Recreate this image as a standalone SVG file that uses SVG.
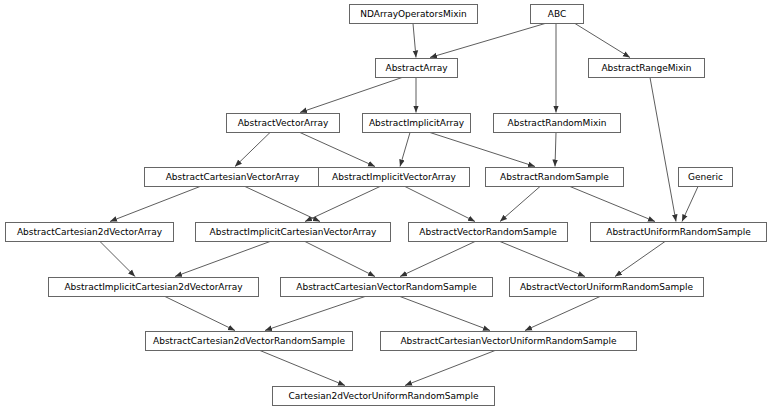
<svg xmlns="http://www.w3.org/2000/svg" width="768" height="410" viewBox="0 0 768 410">
<style>
rect{fill:#fff;stroke:#666;stroke-width:1}
text{font-family:"DejaVu Sans",sans-serif;font-size:9px;fill:#000;text-anchor:middle}
#edges line{stroke:#333;stroke-width:0.8;marker-end:url(#a)}
</style>
<defs><marker id="a" viewBox="0 0 10 10" refX="10" refY="5" markerWidth="7" markerHeight="7" markerUnits="userSpaceOnUse" orient="auto"><path d="M0,1L10,5L0,9z" fill="#333"/></marker></defs>
<rect x="0" y="0" width="768" height="410" style="stroke:none"/>
<g id="edges">
<line x1="413" y1="23.5" x2="416" y2="57.5"/>
<line x1="545" y1="23.5" x2="430" y2="57.5"/>
<line x1="575" y1="23.5" x2="630" y2="57.5"/>
<line x1="556" y1="23.5" x2="556" y2="112.5"/>
<line x1="402" y1="77.5" x2="300" y2="112.5"/>
<line x1="416" y1="77.5" x2="416" y2="112.5"/>
<line x1="270" y1="132.5" x2="235" y2="166.5"/>
<line x1="300" y1="132.5" x2="375" y2="166.5"/>
<line x1="410" y1="132.5" x2="400" y2="166.5"/>
<line x1="430" y1="132.5" x2="535" y2="166.5"/>
<line x1="556" y1="132.5" x2="555" y2="166.5"/>
<line x1="200" y1="186.5" x2="110" y2="221.5"/>
<line x1="245" y1="186.5" x2="320" y2="221.5"/>
<line x1="380" y1="186.5" x2="305" y2="221.5"/>
<line x1="405" y1="186.5" x2="475" y2="221.5"/>
<line x1="540" y1="186.5" x2="500" y2="221.5"/>
<line x1="570" y1="186.5" x2="655" y2="221.5"/>
<line x1="698" y1="186.5" x2="682" y2="221.5"/>
<line x1="650" y1="77.5" x2="676" y2="221.5"/>
<line x1="100" y1="241.5" x2="135" y2="276.5"/>
<line x1="270" y1="241.5" x2="175" y2="276.5"/>
<line x1="305" y1="241.5" x2="375" y2="276.5"/>
<line x1="475" y1="241.5" x2="400" y2="276.5"/>
<line x1="500" y1="241.5" x2="585" y2="276.5"/>
<line x1="665" y1="241.5" x2="615" y2="276.5"/>
<line x1="165" y1="296.5" x2="235" y2="330.5"/>
<line x1="365" y1="296.5" x2="265" y2="330.5"/>
<line x1="400" y1="296.5" x2="490" y2="330.5"/>
<line x1="600" y1="296.5" x2="525" y2="330.5"/>
<line x1="260" y1="350.5" x2="345" y2="385.5"/>
<line x1="495" y1="350.5" x2="405" y2="385.5"/>
</g>
<g id="NDArrayOperatorsMixin"><rect x="349.5" y="4.5" width="128" height="19"/><text x="413.5" y="17">NDArrayOperatorsMixin</text></g>
<g id="ABC"><rect x="530.5" y="4.5" width="53" height="19"/><text x="557" y="17">ABC</text></g>
<g id="AbstractArray"><rect x="375.5" y="58.5" width="82" height="19"/><text x="416.5" y="71">AbstractArray</text></g>
<g id="AbstractRangeMixin"><rect x="588.5" y="58.5" width="116" height="19"/><text x="646.5" y="71">AbstractRangeMixin</text></g>
<g id="AbstractVectorArray"><rect x="226.5" y="113.5" width="113" height="19"/><text x="283" y="126">AbstractVectorArray</text></g>
<g id="AbstractImplicitArray"><rect x="362.5" y="113.5" width="108" height="19"/><text x="416.5" y="126">AbstractImplicitArray</text></g>
<g id="AbstractRandomMixin"><rect x="493.5" y="113.5" width="127" height="19"/><text x="557" y="126">AbstractRandomMixin</text></g>
<g id="AbstractCartesianVectorArray"><rect x="144.5" y="167.5" width="176" height="19"/><text x="232.5" y="180">AbstractCartesianVectorArray</text></g>
<g id="AbstractImplicitVectorArray"><rect x="318.5" y="167.5" width="151" height="19"/><text x="394" y="180">AbstractImplicitVectorArray</text></g>
<g id="AbstractRandomSample"><rect x="485.5" y="167.5" width="138" height="19"/><text x="554.5" y="180">AbstractRandomSample</text></g>
<g id="Generic"><rect x="678.5" y="167.5" width="54" height="19"/><text x="705.5" y="180">Generic</text></g>
<g id="AbstractCartesian2dVectorArray"><rect x="5.5" y="222.5" width="168" height="19"/><text x="89.5" y="235">AbstractCartesian2dVectorArray</text></g>
<g id="AbstractImplicitCartesianVectorArray"><rect x="195.5" y="222.5" width="195" height="19"/><text x="293" y="235">AbstractImplicitCartesianVectorArray</text></g>
<g id="AbstractVectorRandomSample"><rect x="408.5" y="222.5" width="159" height="19"/><text x="488" y="235">AbstractVectorRandomSample</text></g>
<g id="AbstractUniformRandomSample"><rect x="590.5" y="222.5" width="176" height="19"/><text x="678.5" y="235">AbstractUniformRandomSample</text></g>
<g id="AbstractImplicitCartesian2dVectorArray"><rect x="48.5" y="277.5" width="210" height="19"/><text x="153.5" y="290">AbstractImplicitCartesian2dVectorArray</text></g>
<g id="AbstractCartesianVectorRandomSample"><rect x="280.5" y="277.5" width="212" height="19"/><text x="386.5" y="290">AbstractCartesianVectorRandomSample</text></g>
<g id="AbstractVectorUniformRandomSample"><rect x="509.5" y="277.5" width="194" height="19"/><text x="606.5" y="290">AbstractVectorUniformRandomSample</text></g>
<g id="AbstractCartesian2dVectorRandomSample"><rect x="145.5" y="331.5" width="207" height="19"/><text x="249" y="344">AbstractCartesian2dVectorRandomSample</text></g>
<g id="AbstractCartesianVectorUniformRandomSample"><rect x="380.5" y="331.5" width="256" height="19"/><text x="508.5" y="344">AbstractCartesianVectorUniformRandomSample</text></g>
<g id="Cartesian2dVectorUniformRandomSample"><rect x="272.5" y="386.5" width="222" height="19"/><text x="383.5" y="399">Cartesian2dVectorUniformRandomSample</text></g>
</svg>
